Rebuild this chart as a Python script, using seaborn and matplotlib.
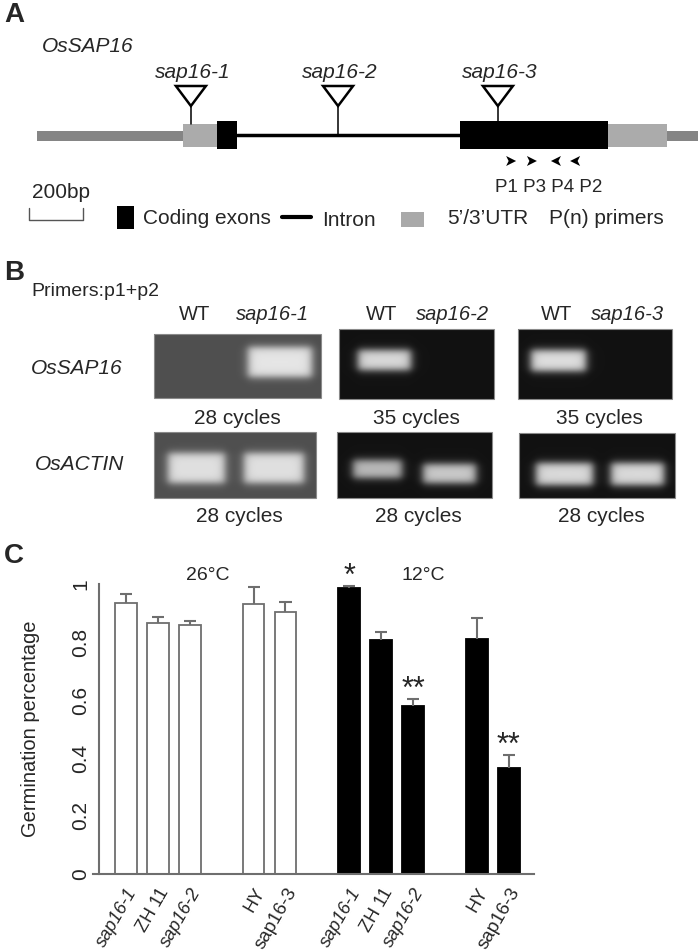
import numpy as np
import pandas as pd
import matplotlib
matplotlib.use('Agg')
import matplotlib.pyplot as plt
from matplotlib.patches import Rectangle, Polygon
import seaborn as sns

sns.set_style('white')
plt.rcParams['font.family'] = ['Liberation Sans', 'DejaVu Sans']

# ── Data ────────────────────────────────────────────────────────────
# A : gene model (bp)
gene_parts = ['flank', 'UTR', 'exon', 'intron', 'exon', 'UTR', 'flank']
gene_bp = [(0, 540), (540, 667), (667, 741), (741, 1567), (1567, 2115), (2115, 2333), (2333, 2448)]
insert_names = ['sap16-1', 'sap16-2', 'sap16-3']
insert_bp = [570, 1115, 1707]
primer_names = ['P1', 'P3', 'P4', 'P2']
primer_bp = [1756, 1833, 1922, 1993]
primer_dir = [1, 1, -1, -1]

# B : RT-PCR gels
gel_lanes = [['WT', 'sap16-1'], ['WT', 'sap16-2'], ['WT', 'sap16-3']]
sap16_band = [[0.0, 0.90], [0.86, 0.0], [0.88, 0.0]]
actin_band = [[0.88, 0.88], [0.74, 0.80], [0.86, 0.86]]
sap16_cycles = [28, 35, 35]
actin_cycles = [28, 28, 28]

# C : germination
genotypes = ['sap16-1', 'ZH 11', 'sap16-2', 'HY', 'sap16-3']
germ_26 = [0.935, 0.865, 0.858, 0.930, 0.902]
err_26 = [0.030, 0.020, 0.015, 0.060, 0.035]
germ_12 = [0.986, 0.806, 0.580, 0.812, 0.367]
err_12 = [0.007, 0.029, 0.025, 0.070, 0.043]
sig_12 = ['*', '', '**', '', '**']

GRAY = '#6e6e6e'

fig = plt.figure(figsize=(7, 9.51), dpi=100)
ax0 = fig.add_axes([0, 0, 1, 1])


def reset_canvas():
    ax0.set_xlim(0, 700)
    ax0.set_ylim(951, 0)
    ax0.axis('off')


reset_canvas()


def txt(x, y, s, size=15, **kw):
    kw.setdefault('va', 'center')
    ax0.text(x, y, s, fontsize=size, **kw)


# ── Panel A ─────────────────────────────────────────────────────────
px = lambda bp: 37 + bp * 0.27
txt(4, 15, 'A', 20, weight='bold')
txt(42, 46, 'OsSAP16', 15, style='italic')

for part, (b0, b1) in zip(gene_parts, gene_bp):
    x0, x1 = px(b0), px(b1)
    if part == 'flank':
        ax0.add_patch(Rectangle((x0, 131), x1 - x0, 10, color='#858585', lw=0))
    elif part == 'UTR':
        ax0.add_patch(Rectangle((x0, 124), x1 - x0, 23, color='#ababab', lw=0))
    elif part == 'exon':
        ax0.add_patch(Rectangle((x0, 121), x1 - x0, 28, color='black', lw=0, zorder=3))
    else:
        ax0.plot([x0, x1], [135, 135], color='black', lw=2.5)


def part_top(bp):
    for part, (b0, b1) in zip(gene_parts, gene_bp):
        if b0 <= bp < b1:
            return {'flank': 131, 'UTR': 124, 'exon': 121, 'intron': 135}[part]
    return 135


for name, bp in zip(insert_names, insert_bp):
    x = px(bp)
    ax0.plot([x, x], [106, part_top(bp)], color='black', lw=1.1, zorder=2)
    ax0.add_patch(Polygon([(x - 15, 86), (x + 15, 86), (x, 106)], closed=True,
                          fc='white', ec='black', lw=1.8, zorder=4))
    txt(x + 2, 72, name, 15, style='italic', ha='center')

for bp, d in zip(primer_bp, primer_dir):
    x = px(bp)
    ax0.add_patch(Polygon([(x + 5 * d, 161), (x - 5 * d, 156), (x - 2.5 * d, 161),
                           (x - 5 * d, 166)], closed=True, color='black', lw=0))
txt(549, 188, ' '.join(primer_names), 13.5, ha='center')

# scale bar + legend
txt(61, 193, '200bp', 15, ha='center')
ax0.plot([29, 29, 83, 83], [208, 220, 220, 208], color='#555555', lw=1)
ax0.add_patch(Rectangle((117, 206), 17, 23, color='black', lw=0))
txt(143, 218, 'Coding exons', 15)
ax0.plot([282, 311], [217, 217], color='black', lw=3)
txt(322, 220, 'Intron', 15)
ax0.add_patch(Rectangle((401, 212), 23, 15, color='#a9a9a9', lw=0))
txt(447, 218, '5\u2019/3\u2019UTR', 15)
txt(549, 218, 'P(n) primers', 15)

# ── Panel B ─────────────────────────────────────────────────────────
txt(4, 273, 'B', 20, weight='bold')
txt(31, 291, 'Primers:p1+p2', 14)


def sig(z):
    return 1.0 / (1.0 + np.exp(-z))


def draw_gel(x0, x1, y0, y1, bg, bands):
    s = 2
    w, h = int((x1 - x0) * s), int((y1 - y0) * s)
    X, Y = np.meshgrid(x0 + (np.arange(w) + 0.5) / s, y0 + (np.arange(h) + 0.5) / s)
    img = np.full((h, w), bg)
    for bx0, bx1, by0, by1, a in bands:
        if a <= 0:
            continue
        f = sig((X - bx0) / 2.5) * sig((bx1 - X) / 2.5) * sig((Y - by0) / 2.2) * sig((by1 - Y) / 2.2)
        img = img + (a - bg) * f
    ax0.imshow(img, cmap='gray', vmin=0, vmax=1, extent=(x0, x1, y1, y0),
               interpolation='bilinear', aspect='auto', zorder=2)
    ax0.add_patch(Rectangle((x0, y0), x1 - x0, y1 - y0, fill=False, ec='#8a8a8a', lw=0.8, zorder=3))


# layout of the six gel pieces (pixels)
row1_box = [(154, 321, 334, 398), (339, 494, 329, 399), (518, 672, 329, 399)]
row2_box = [(154, 316, 432, 498), (337, 492, 432, 498), (519, 675, 433, 498)]
gel_bg = [0.31, 0.07, 0.07]
row1_lanes = [[(168, 225), (248, 312)], [(358, 411), (430, 480)], [(531, 586), (603, 655)]]
row1_bandy = [(347, 377), (350, 370), (350, 371)]
row2_lanes = [[(168, 225), (244, 304)], [(353, 402), (423, 476)], [(536, 593), (611, 664)]]
row2_bandy = [[(453, 483), (453, 483)], [(460, 478), (464, 483)], [(463, 485), (463, 485)]]
head_x = [(195, 273), (382, 453), (557, 628)]
cyc_x = [237, 416, 599]

for g in range(3):
    bands1 = [(l[0], l[1], row1_bandy[g][0], row1_bandy[g][1], a)
              for l, a in zip(row1_lanes[g], sap16_band[g])]
    draw_gel(*row1_box[g], gel_bg[g], bands1)
    bands2 = [(l[0], l[1], yb[0], yb[1], a)
              for l, yb, a in zip(row2_lanes[g], row2_bandy[g], actin_band[g])]
    draw_gel(*row2_box[g], gel_bg[g], bands2)
    for hx, lab in zip(head_x[g], gel_lanes[g]):
        txt(hx, 314, lab, 14.5, ha='center', style='normal' if lab == 'WT' else 'italic')
    txt(cyc_x[g], 419, f'{sap16_cycles[g]} cycles', 15, ha='center')
    txt(cyc_x[g] + 2, 516, f'{actin_cycles[g]} cycles', 15, ha='center')

txt(31, 368, 'OsSAP16', 15, style='italic')
txt(35, 465, 'OsACTIN', 15, style='italic')
reset_canvas()

# ── Panel C ─────────────────────────────────────────────────────────
txt(4, 556, 'C', 20, weight='bold')
txt(208, 575, '26°C', 14, ha='center')
txt(423, 575, '12°C', 14, ha='center')

slots, rows = [], []
for temp, vals, errs, sigs in [('26', germ_26, err_26, [''] * 5), ('12', germ_12, err_12, sig_12)]:
    for i, g in enumerate(genotypes):
        if i == 3:
            slots.append(f'{temp} gap')
        slots.append(f'{temp} {g}')
        rows.append(dict(slot=f'{temp} {g}', temp=temp, geno=g, germ=vals[i], err=errs[i], sig=sigs[i]))
    if temp == '26':
        slots.append('mid')
df = pd.DataFrame(rows)

ax = fig.add_axes([92.5 / 700, (951 - 874) / 951, (534 - 92.5) / 700, (874 - 584) / 951])
ax.set_facecolor('none')
sns.barplot(data=df, x='slot', y='germ', hue='temp', order=slots, hue_order=['26', '12'],
            palette={'26': 'white', '12': 'black'}, dodge=False, width=0.68,
            errorbar=None, legend=False, edgecolor=GRAY, linewidth=1.3, ax=ax)
for p in ax.patches:
    if p.get_facecolor()[0] < 0.5:
        p.set_edgecolor('black')

for _, r in df.iterrows():
    x = slots.index(r['slot'])
    top = r['germ'] + r['err']
    ax.vlines(x, r['germ'], top, color=GRAY, lw=1.5, zorder=5)
    ax.hlines(top, x - 0.19, x + 0.19, color=GRAY, lw=1.5, zorder=5)
    if r['sig']:
        ax.text(x, top + 0.03, r['sig'], ha='center', va='center', fontsize=22, clip_on=False)

tick_pos = [i for i, s in enumerate(slots) if s != 'mid']
tick_lab = ['' if s.endswith('gap') else s.split(' ', 1)[1] for s in slots if s != 'mid']
ax.set_xticks(tick_pos)
ax.set_xticklabels(tick_lab, rotation=60, ha='right', rotation_mode='anchor', fontsize=13)
for t in ax.get_xticklabels():
    if t.get_text() in ('sap16-1', 'sap16-2'):
        t.set_style('italic')
    if t.get_text() == 'sap16-3':
        t.set_fontsize(13.5)
ax.set_xlim(-1.05, 12.79)
ax.set_ylim(0, 1)
ax.set_yticks([0, 0.2, 0.4, 0.6, 0.8, 1.0])
ax.set_yticklabels(['0', '0.2', '0.4', '0.6', '0.8', '1'])
ax.set_xlabel('')
ax.set_ylabel('Germination percentage', fontsize=14.5)
ax.yaxis.set_label_coords(-0.119, 0.5)

sns.despine(ax=ax)
ax.spines['left'].set_position(('data', -0.85))
for s in ('left', 'bottom'):
    ax.spines[s].set_color(GRAY)
    ax.spines[s].set_linewidth(1.5)
ax.tick_params(axis='x', length=6, width=1.3, color=GRAY, direction='out', pad=2)
ax.tick_params(axis='y', length=3, width=1.3, color=GRAY, direction='out', pad=3,
               labelsize=15, labelrotation=90)
for t in ax.get_yticklabels():
    t.set_va('center')

fig.savefig('out.png', dpi=100)
